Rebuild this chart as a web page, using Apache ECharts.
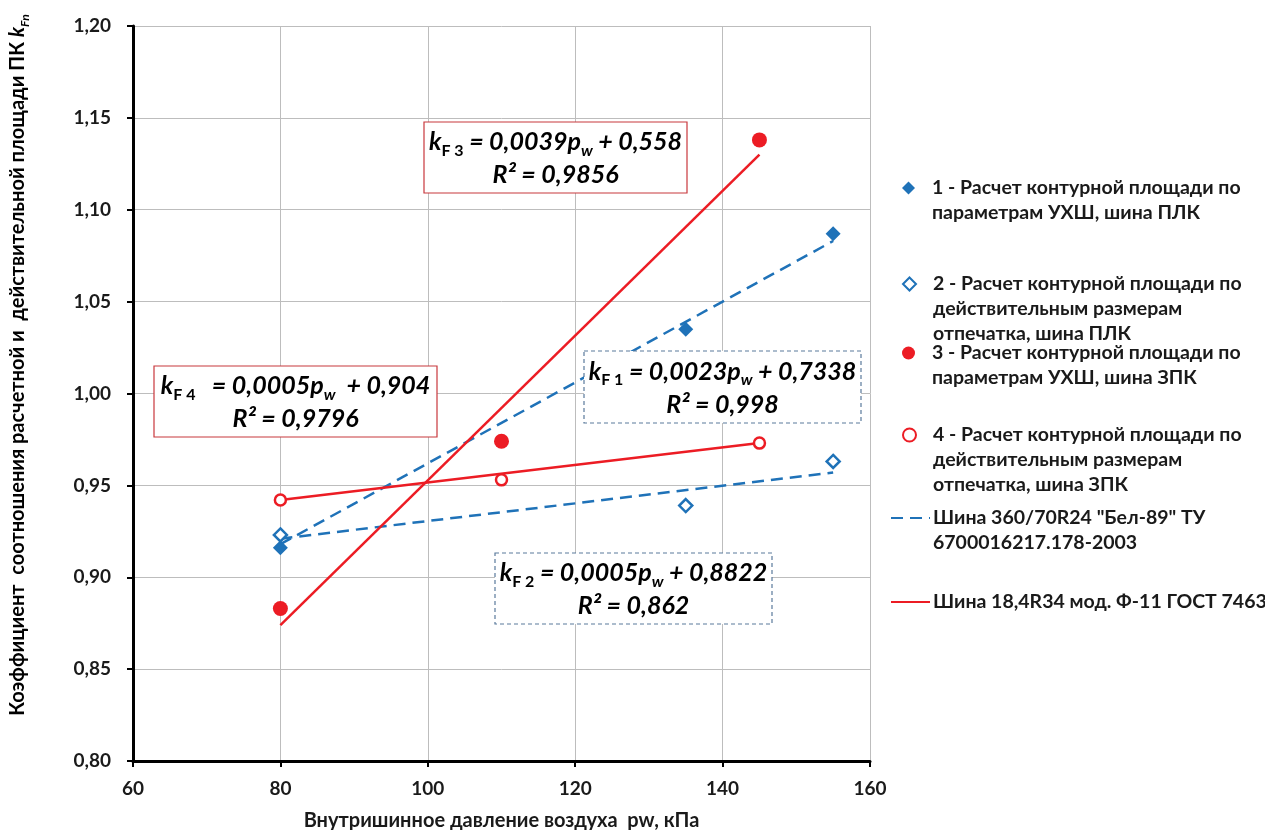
<!DOCTYPE html>
<html><head><meta charset="utf-8">
<script src="https://cdn.jsdelivr.net/npm/echarts@6/dist/echarts.min.js"></script>
<style>html,body{margin:0;padding:0;background:#fff}#c{width:1265px;height:830px}</style>
</head><body><div id="c"></div>
<script>
// ---- data ----
const xTicks = [60, 80, 100, 120, 140, 160];
const yTicks = [0.80, 0.85, 0.90, 0.95, 1.00, 1.05, 1.10, 1.15, 1.20];

const pw1 = [80, 135, 155];
const kF1 = [0.916, 1.035, 1.087];
const pw2 = [80, 135, 155];
const kF2 = [0.923, 0.939, 0.963];
const pw3 = [80, 110, 145];
const kF3 = [0.883, 0.974, 1.138];
const pw4 = [80, 110, 145];
const kF4 = [0.942, 0.953, 0.973];

// trend line end points
const trend1X = [80, 155], trend1Y = [0.918, 1.083];
const trend2X = [80, 155], trend2Y = [0.921, 0.957];
const trend3X = [80, 145], trend3Y = [0.874, 1.130];
const trend4X = [80, 145], trend4Y = [0.942, 0.973];

const legendLines = [
  ['1 - Расчет контурной площади по', 'параметрам УХШ, шина ПЛК'],
  ['2 - Расчет контурной площади по', 'действительным размерам', 'отпечатка, шина ПЛК'],
  ['3 - Расчет контурной площади по', 'параметрам УХШ, шина ЗПК'],
  ['4 - Расчет контурной площади по', 'действительным размерам', 'отпечатка, шина ЗПК'],
  ['Шина 360/70R24 "Бел-89" ТУ', '6700016217.178-2003'],
  ['Шина 18,4R34 мод. Ф-11 ГОСТ 7463']
];
const seriesNames = legendLines.map(l => l.join(' '));

// ---- styles ----
const BLUE = '#1F72B8';
const RED = '#EC1C24';
const FONT = 'Lato';
const TXT = '#1a1a1a';
const zip = (xs, ys) => xs.map((x, i) => [x, ys[i]]);

const chart = echarts.init(document.getElementById('c'), null, {renderer: 'canvas'});

const LH = 25;
const legendIconY = [188, 284, 353, 435, 518, 602];
const legends = legendLines.map((lines, i) => {
  const n = lines.length;
  const isLine = i >= 4;
  const lg = {
    data: [seriesNames[i]],
    orient: 'vertical',
    left: isLine ? 890 : 902,
    top: legendIconY[i] - (2 * n - 1) * LH / 2,
    padding: 0,
    itemWidth: isLine ? 39 : 13,
    itemHeight: 13,
    selectedMode: false,
    formatter: () => '\n'.repeat(n - 1) + lines.join('\n'),
    textStyle: {fontFamily: FONT, fontWeight: 'bold', fontSize: 19.5, color: TXT,
                lineHeight: LH, padding: isLine ? [0, 0, 0, -2] : [0, 0, 0, 12]}
  };
  if (isLine) lg.itemStyle = {opacity: 0};
  return lg;
});

const richEq = (color) => ({
  t: {fontFamily: FONT, fontStyle: 'italic', fontWeight: 'bold', fontSize: 25, color: color, lineHeight: 33},
  sub: {fontFamily: FONT, fontWeight: 'bold', fontSize: 16, color: color, lineHeight: 20, verticalAlign: 'bottom'},
  subi: {fontFamily: FONT, fontStyle: 'italic', fontWeight: 'bold', fontSize: 16, color: color, lineHeight: 20, verticalAlign: 'bottom'}
});

function box(x, y, w, h, color, borderColor, dashed, txt1, txt2) {
  return {
    type: 'group',
    children: [
      {type: 'rect', shape: {x: x, y: y, width: w, height: h}, z: 10,
       style: {fill: '#fff', stroke: borderColor, lineWidth: 1.2, lineDash: dashed ? [4, 3] : null}},
      {type: 'text', x: x + w / 2, y: y + h / 2 + 1, z: 11,
       style: {text: txt1 + '\n{t|' + txt2 + '}', rich: richEq(color), align: 'center', verticalAlign: 'middle'}}
    ]
  };
}

const option = {
  backgroundColor: '#fff',
  animation: false,
  grid: {left: 133, right: 395, top: 26, bottom: 69, containLabel: false, outerBoundsMode: 'none'},
  legend: legends,
  xAxis: {
    type: 'value', min: 60, max: 160, interval: 20,
    name: 'Внутришинное давление воздуха  pw, кПа',
    nameLocation: 'middle', nameGap: 50,
    nameTextStyle: {fontFamily: FONT, fontWeight: 'bold', fontSize: 20, color: TXT},
    axisLine: {lineStyle: {color: '#000', width: 3}},
    axisTick: {show: true, length: 6, lineStyle: {color: '#000', width: 2}},
    axisLabel: {fontFamily: FONT, fontWeight: 'bold', fontSize: 19, color: TXT, margin: 18,
                formatter: v => xTicks.includes(v) ? String(v) : ''},
    splitLine: {show: true, lineStyle: {color: '#BDBDBD', width: 1}}
  },
  yAxis: {
    type: 'value', min: 0.8, max: 1.2, interval: 0.05,
    axisLine: {show: true, lineStyle: {color: '#000', width: 3}},
    axisTick: {show: true, length: 6, lineStyle: {color: '#000', width: 2}},
    axisLabel: {fontFamily: FONT, fontWeight: 'bold', fontSize: 19, color: TXT, margin: 22,
                formatter: v => {
                  const t = yTicks.find(k => Math.abs(k - v) < 1e-6);
                  return t === undefined ? '' : t.toFixed(2).replace('.', ',');
                }},
    splitLine: {show: true, lineStyle: {color: '#BDBDBD', width: 1}}
  },
  graphic: [
    {type: 'text', x: 18, y: 365, rotation: Math.PI / 2, z: 5,
     style: {
       text: '{a|Коэффициент  соотношения расчетной и  действительной площади ПК }{k|k}{s|Fп}',
       align: 'center', verticalAlign: 'middle',
       rich: {
         a: {fontFamily: FONT, fontWeight: 'bold', fontSize: 20, color: TXT, lineHeight: 26},
         k: {fontFamily: FONT, fontWeight: 'bold', fontStyle: 'italic', fontSize: 20, color: TXT, lineHeight: 26},
         s: {fontFamily: FONT, fontWeight: 'bold', fontStyle: 'italic', fontSize: 12, color: TXT, lineHeight: 16, verticalAlign: 'bottom'}
       }
     }},
    box(424, 122, 263, 71, RED, '#C8383D', false,
        '{t|k}{sub|F 3}{t| = 0,0039p}{subi|w}{t| + 0,558}', 'R² = 0,9856'),
    box(154, 366, 283, 71, RED, '#C8383D', false,
        '{t|k}{sub|F 4}{t|   = 0,0005p}{subi|w}{t|  + 0,904}', 'R² = 0,9796'),
    box(584, 351, 277, 72, BLUE, '#5A7A9C', true,
        '{t|k}{sub|F 1}{t| = 0,0023p}{subi|w}{t| + 0,7338}', 'R² = 0,998'),
    box(495, 553, 277, 71, BLUE, '#5A7A9C', true,
        '{t|k}{sub|F 2}{t| = 0,0005p}{subi|w}{t| + 0,8822}', 'R² = 0,862')
  ],
  series: [
    {name: seriesNames[0], type: 'scatter', data: zip(pw1, kF1), symbol: 'diamond', symbolSize: 15,
     itemStyle: {color: BLUE, opacity: 1}, z: 5},
    {name: seriesNames[1], type: 'scatter', data: zip(pw2, kF2), symbol: 'diamond', symbolSize: 13,
     itemStyle: {color: '#fff', borderColor: BLUE, borderWidth: 2.5, opacity: 1}, z: 5},
    {name: seriesNames[2], type: 'scatter', data: zip(pw3, kF3), symbol: 'circle', symbolSize: 15,
     itemStyle: {color: RED, opacity: 1}, z: 5},
    {name: seriesNames[3], type: 'scatter', data: zip(pw4, kF4), symbol: 'circle', symbolSize: 11,
     itemStyle: {color: '#fff', borderColor: RED, borderWidth: 2.5, opacity: 1}, z: 5},
    {name: seriesNames[4], type: 'line', data: zip(trend1X, trend1Y), symbol: 'none', z: 3,
     lineStyle: {color: BLUE, width: 2.5, type: [12, 7]}, itemStyle: {color: BLUE}},
    {name: seriesNames[4], type: 'line', data: zip(trend2X, trend2Y), symbol: 'none', z: 3,
     lineStyle: {color: BLUE, width: 2.5, type: [12, 7]}, itemStyle: {color: BLUE}},
    {name: seriesNames[5], type: 'line', data: zip(trend3X, trend3Y), symbol: 'none', z: 3,
     lineStyle: {color: RED, width: 2.5}, itemStyle: {color: RED}},
    {name: seriesNames[5], type: 'line', data: zip(trend4X, trend4Y), symbol: 'none', z: 3,
     lineStyle: {color: RED, width: 2.5}, itemStyle: {color: RED}}
  ]
};
chart.setOption(option);
</script></body></html>
